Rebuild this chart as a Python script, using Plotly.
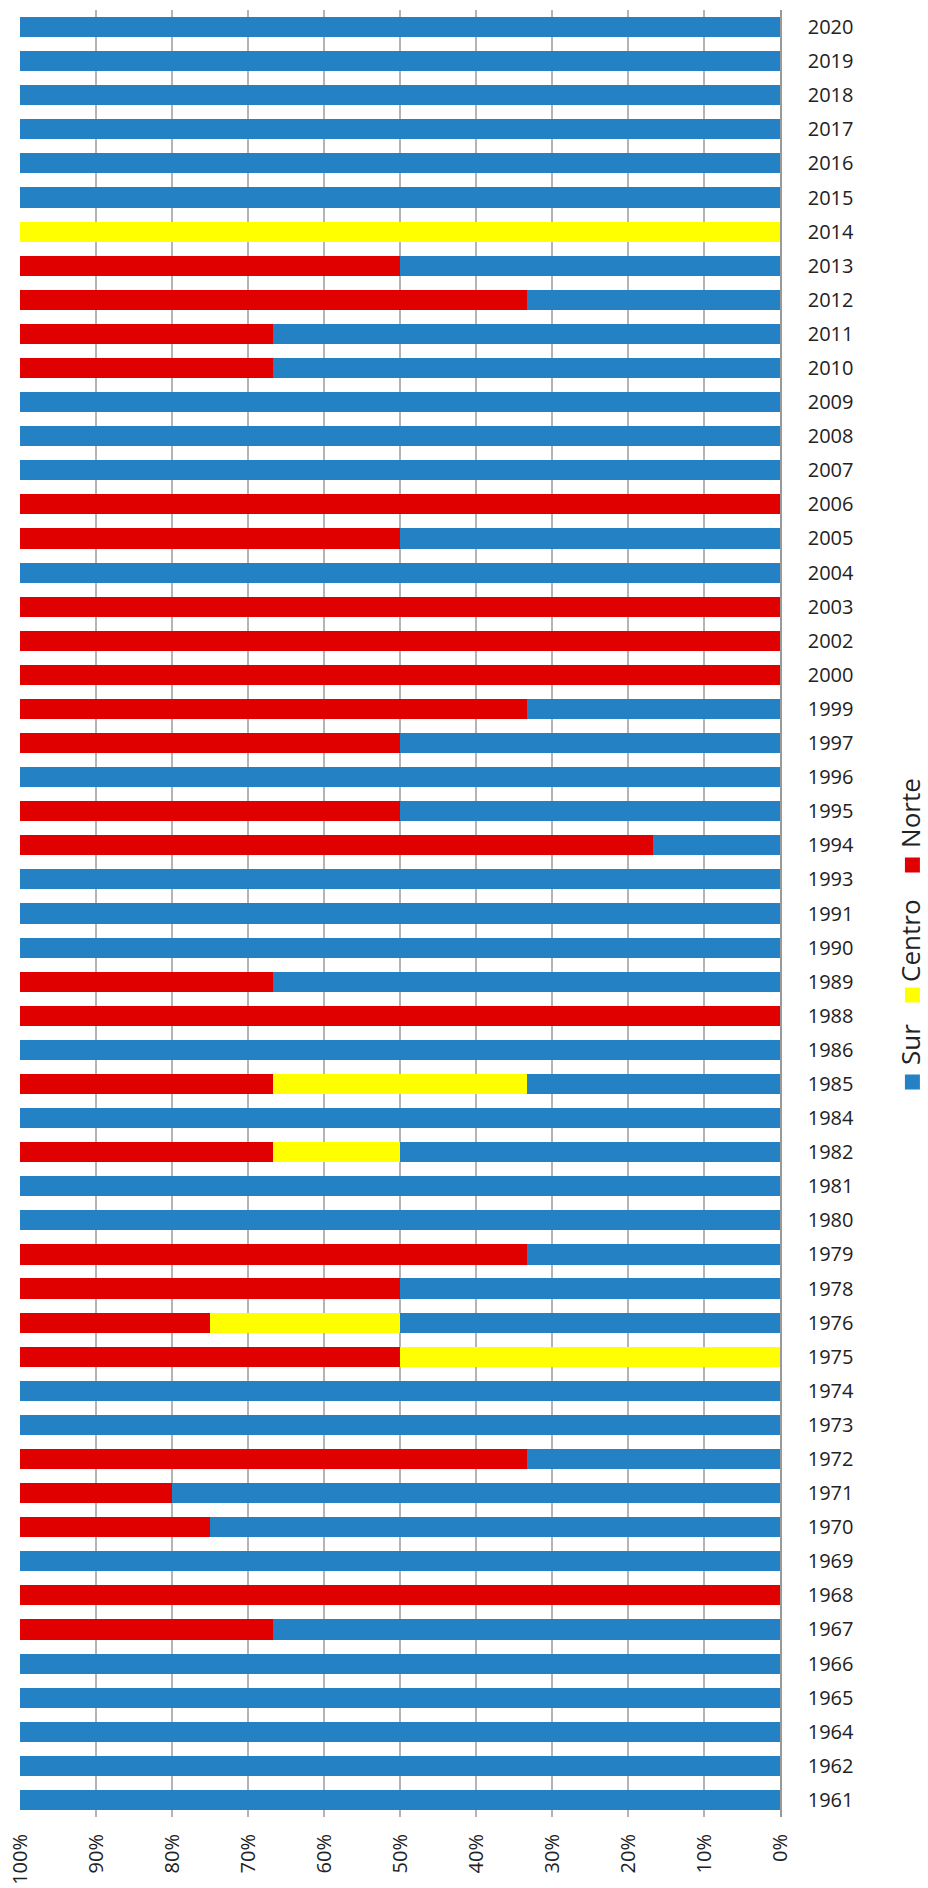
import plotly.graph_objects as go

# years from top to bottom, as in the chart
years = ['2020', '2019', '2018', '2017', '2016', '2015', '2014', '2013', '2012', '2011',
         '2010', '2009', '2008', '2007', '2006', '2005', '2004', '2003', '2002', '2000',
         '1999', '1997', '1996', '1995', '1994', '1993', '1991', '1990', '1989', '1988',
         '1986', '1985', '1984', '1982', '1981', '1980', '1979', '1978', '1976', '1975',
         '1974', '1973', '1972', '1971', '1970', '1969', '1968', '1967', '1966', '1965',
         '1964', '1962', '1961']

# counts per region (normalised to 100% by plotly)
norte = [0, 0, 0, 0, 0, 0, 0, 1, 2, 1,
         1, 0, 0, 0, 1, 1, 0, 1, 1, 1,
         2, 1, 0, 1, 5, 0, 0, 0, 1, 1,
         0, 1, 0, 2, 0, 0, 2, 1, 1, 1,
         0, 0, 2, 1, 1, 0, 1, 1, 0, 0,
         0, 0, 0]
centro = [0, 0, 0, 0, 0, 0, 1, 0, 0, 0,
          0, 0, 0, 0, 0, 0, 0, 0, 0, 0,
          0, 0, 0, 0, 0, 0, 0, 0, 0, 0,
          0, 1, 0, 1, 0, 0, 0, 0, 1, 1,
          0, 0, 0, 0, 0, 0, 0, 0, 0, 0,
          0, 0, 0]
sur = [1, 1, 1, 1, 1, 1, 0, 1, 1, 2,
       2, 1, 1, 1, 0, 1, 1, 0, 0, 0,
       1, 1, 1, 1, 1, 1, 1, 1, 2, 0,
       1, 1, 1, 3, 1, 1, 1, 1, 2, 0,
       1, 1, 1, 4, 3, 1, 0, 2, 1, 1,
       1, 1, 1]

x_ticks = [100, 90, 80, 70, 60, 50, 40, 30, 20, 10, 0]
x_ticktext = ['100%', '90%', '80%', '70%', '60%', '50%', '40%', '30%', '20%', '10%', '0%']

BLUE = '#2481c4'
YELLOW = '#ffff00'
RED = '#e10000'
FONT = 'Open Sans'

# pixel frame of the plot area
W, H = 928, 1888
L, R, T, B = 19.5, 780, 10, 1817


def px(x):
    return (x - L) / (R - L)


def py(y):
    return (B - y) / (B - T)


fig = go.Figure()
for name, vals, col in [('Sur', sur, BLUE), ('Centro', centro, YELLOW), ('Norte', norte, RED)]:
    fig.add_trace(go.Bar(
        y=years, x=vals, name=name, orientation='h',
        marker=dict(color=col, line=dict(width=0)),
        showlegend=False
    ))

fig.update_layout(
    barmode='stack',
    barnorm='percent',
    bargap=0.41,
    width=W, height=H,
    margin=dict(l=L, r=W - R, t=T, b=H - B, pad=0, autoexpand=False),
    plot_bgcolor='white',
    paper_bgcolor='white',
    font=dict(family=FONT, color='#222222'),
)

fig.update_xaxes(
    range=[100, 0],
    tickvals=x_ticks, ticktext=x_ticktext,
    tickangle=-90,
    tickfont=dict(size=20, family=FONT, color='#222222'),
    showgrid=True, gridcolor='#b4b4b4', gridwidth=1.5,
    zeroline=False, showline=False,
    ticks='', ticklabelstandoff=12, automargin=False,
)
fig.update_yaxes(
    categoryorder='array', categoryarray=years[::-1],
    side='right',
    tickfont=dict(size=20, family=FONT, color='#222222'),
    showline=True, linecolor='#999999', linewidth=1.5,
    showgrid=False, ticks='', ticklabelstandoff=22, automargin=False,
)

# rotated legend on the right side: (name, colour, square centre y, text centre y)
legend_items = [('Sur', BLUE, 1082, 1044), ('Centro', YELLOW, 995, 941), ('Norte', RED, 865, 813)]
for name, col, sq_y, txt_y in legend_items:
    fig.add_shape(type='rect', xref='paper', yref='paper',
                  x0=px(905), x1=px(920), y0=py(sq_y + 7.5), y1=py(sq_y - 7.5),
                  fillcolor=col, line=dict(width=0))
    fig.add_annotation(text=name, xref='paper', yref='paper',
                       x=px(910), y=py(txt_y), showarrow=False, textangle=-90,
                       xanchor='center', yanchor='middle',
                       font=dict(size=26, family=FONT, color='#222222'))

fig.write_html("out.html", config={'displayModeBar': False},
               post_script="document.body.style.margin='0';document.body.style.overflow='hidden';")
